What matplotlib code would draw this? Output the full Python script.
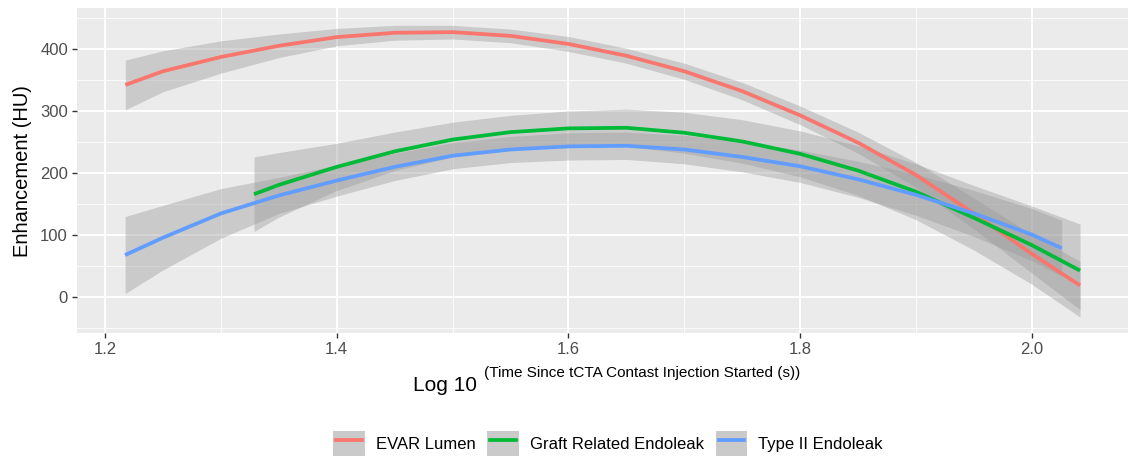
import matplotlib.pyplot as plt
from matplotlib.patches import Patch
from matplotlib.lines import Line2D
from matplotlib.legend_handler import HandlerTuple, HandlerLine2D
from matplotlib.ticker import MultipleLocator
import numpy as np

plt.rcParams['font.family'] = ['Liberation Sans', 'DejaVu Sans']

# values: fitted mean and half-width of the confidence band
evar_x = [1.2175, 1.25, 1.30, 1.35, 1.40, 1.45, 1.50, 1.55, 1.60, 1.65, 1.70,
          1.75, 1.80, 1.85, 1.90, 1.95, 2.00, 2.0416]
evar_y = [342, 364, 387, 405, 419, 426, 427, 421, 408, 389, 364, 332, 293,
          249, 197, 135, 70, 19]
evar_se = [40, 33, 26, 19, 14, 12, 11, 11, 12, 12, 13, 14, 15, 17, 20, 25, 31, 39]

graft_x = [1.3286, 1.35, 1.40, 1.45, 1.50, 1.55, 1.60, 1.65, 1.70, 1.75, 1.80,
           1.85, 1.90, 1.95, 2.00, 2.0416]
graft_y = [166, 181, 210, 235, 254, 266, 272, 273, 265, 251, 231, 204, 170,
           128, 84, 43]
graft_se = [60, 52, 38, 31, 28, 27, 28, 30, 33, 35, 37, 40, 45, 52, 63, 75]

type2_x = [1.2173, 1.25, 1.30, 1.35, 1.40, 1.45, 1.50, 1.55, 1.60, 1.65, 1.70,
           1.75, 1.80, 1.85, 1.90, 1.95, 2.00, 2.0258]
type2_y = [68, 96, 135, 164, 188, 210, 228, 238, 243, 244, 238, 226, 211,
           190, 165, 135, 101, 79]
type2_se = [62, 52, 40, 29, 25, 22, 21, 21, 22, 22, 23, 24, 26, 29, 33, 37, 42, 45]

labels = ['EVAR Lumen', 'Graft Related Endoleak', 'Type II Endoleak']
colors = ['#F8766D', '#00BA38', '#619CFF']
series = [(evar_x, evar_y, evar_se), (graft_x, graft_y, graft_se),
          (type2_x, type2_y, type2_se)]

fig = plt.figure(figsize=(11.28, 4.59), dpi=100)
ax = fig.add_axes([77 / 1128, 1 - 333.3 / 459, 1 - 77 / 1128, (333.3 - 8.3) / 459])
ax.set_facecolor('#EBEBEB')

# ribbon then line per group, like geom_smooth
for (x, y, se), c in zip(series, colors):
    x = np.array(x)
    y = np.array(y)
    se = np.array(se)
    ax.fill_between(x, y - se, y + se, color='#999999', alpha=0.4, lw=0, zorder=2)
    ax.plot(x, y, color=c, lw=2.7, zorder=3, solid_capstyle='butt',
            solid_joinstyle='round')

ax.set_xlim(1.1758, 2.083)
ax.set_ylim(-58, 465.4)
ax.xaxis.set_minor_locator(MultipleLocator(0.1))
ax.yaxis.set_major_locator(MultipleLocator(100))
ax.yaxis.set_minor_locator(MultipleLocator(50))
ax.set_xticks([1.2, 1.4, 1.6, 1.8, 2.0])
ax.set_xticklabels(['1.2', '1.4', '1.6', '1.8', '2.0'])
ax.grid(which='major', color='white', lw=1.3, zorder=1)
ax.grid(which='minor', color='white', lw=0.6, zorder=1)
ax.set_axisbelow(True)
for s in ax.spines.values():
    s.set_visible(False)
ax.tick_params(which='major', length=3.5, width=1, color='#333333',
               labelcolor='#4D4D4D', labelsize=12, pad=3)
ax.tick_params(which='minor', length=0)

ax.set_ylabel('Enhancement (HU)', fontsize=14.5, color='black', labelpad=6)

fig.text(413 / 1128, 1 - 391 / 459, 'Log 10', fontsize=15, ha='left',
         va='baseline')
fig.text(484 / 1128, 1 - 377 / 459, '(Time Since tCTA Contast Injection Started (s))',
         fontsize=11, ha='left', va='baseline')

handles = [(Patch(facecolor='#CACACA', edgecolor='none'),
            Line2D([], [], color=c, lw=2.7)) for c in colors]
fig.legend(handles, labels, loc='center', bbox_to_anchor=(0.539, 0.034),
           ncol=3, frameon=False, fontsize=12,
           handler_map={tuple: HandlerTuple(ndivide=1),
                        Line2D: HandlerLine2D(numpoints=2, marker_pad=0.18)},
           handlelength=1.9, handleheight=1.9, handletextpad=0.65,
           columnspacing=0.7)

fig.savefig('out.png', dpi=100)
